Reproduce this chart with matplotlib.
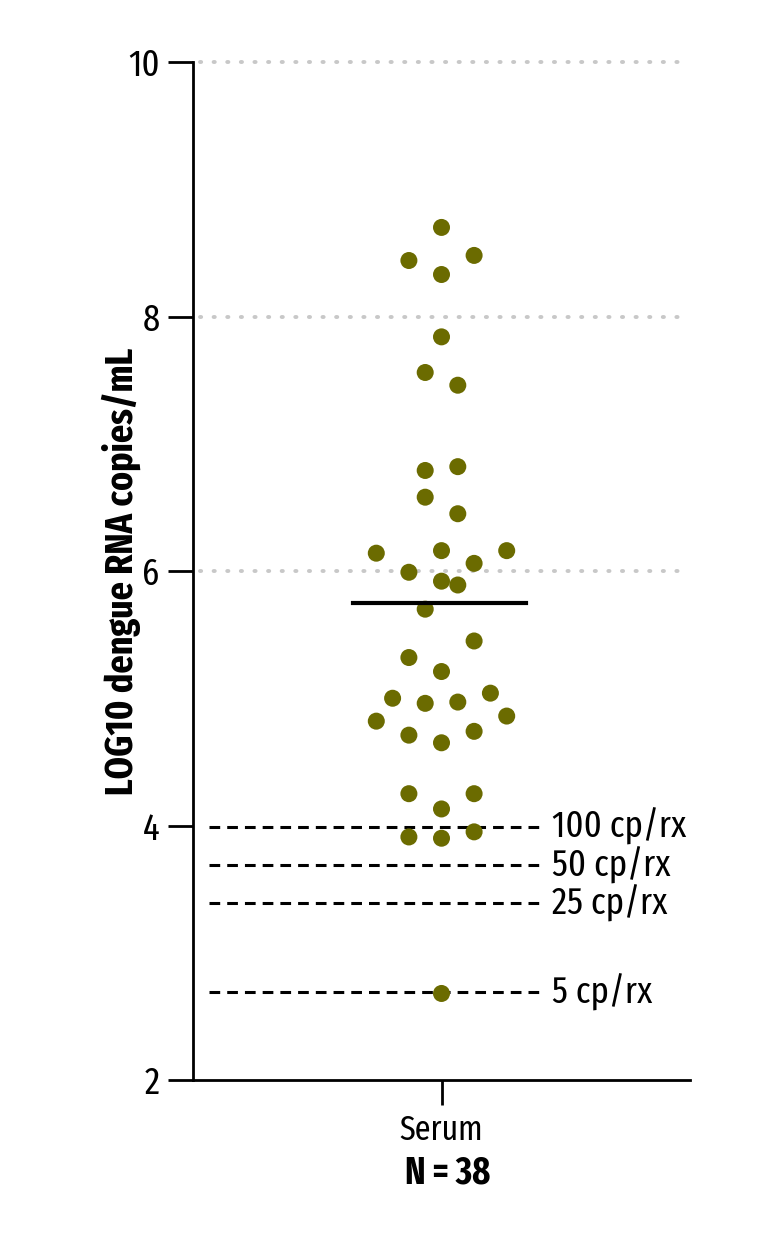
import matplotlib
matplotlib.use("Agg")
import matplotlib.pyplot as plt
import numpy as np

FONT = 'Fira Sans Extra Condensed'
plt.rcParams['font.family'] = [FONT, 'DejaVu Sans']
plt.rcParams['font.weight'] = 'normal'

# Data
category = ["Serum"]
n_label = "N = 38"
values = [8.70, 8.44, 8.48, 8.33, 7.84, 7.56, 7.46, 6.79, 6.82, 6.58, 6.45,
          6.14, 6.16, 6.16, 5.99, 6.06, 5.92, 5.89, 5.70, 5.45, 5.32, 5.21,
          5.00, 5.04, 4.96, 4.97, 4.82, 4.86, 4.71, 4.65, 4.74, 4.25, 4.25,
          4.13, 3.91, 3.95, 3.90, 2.68]
# beeswarm column (integer offsets from centre)
columns = [0, -2, 2, 0, 0, -1, 1, -1, 1, -1, 1,
           -4, 0, 4, -2, 2, 0, 1, -1, 2, -2, 0,
           -3, 3, -1, 1, -4, 4, -2, 0, 2, -2, 2,
           0, -2, 2, 0, 0]
mean_value = 5.75
lod_values = [3.99, 3.69, 3.39, 2.69]
lod_labels = ["100 cp/rx", "50 cp/rx", "25 cp/rx", "5 cp/rx"]
yticks = [2, 4, 6, 8, 10]
ylabel = "LOG10 dengue RNA copies/mL"

fig = plt.figure(figsize=(7.78, 12.37), dpi=100)
ax = fig.add_axes([193/778, 1 - 1080/1237, (690-193)/778, (1080-62)/1237])
ax.set_xlim(-1, 1)
ax.set_ylim(2, 10)

step = 0.0656
xs = np.array(columns) * step

for g in [6, 8, 10]:
    ax.plot([-0.97, 1], [g, g], color='#c8c8c8', lw=2.8, ls=(0, (0.3, 3.2)),
            dash_capstyle='round', zorder=1, clip_on=False)

for v, lab in zip(lod_values, lod_labels):
    ax.plot([-0.937, 0.416], [v, v], color='black', lw=2.2, ls=(0, (3.5, 2.3)), zorder=2)
    ax.text(0.445, v, lab, fontsize=27, va='center', ha='left')

ax.scatter(xs, values, s=150, color='#6b6b00', edgecolors='none', zorder=3)
ax.plot([-0.356, 0.34], [mean_value, mean_value], color='black', lw=3, zorder=4)

ax.set_yticks(yticks)
ax.set_yticklabels([str(t) for t in yticks], fontsize=27)
ax.set_xticks([0])
ax.set_xticklabels(category, fontsize=25)
ax.tick_params(axis='both', length=18, width=2, pad=6, direction='out')
for s in ['top', 'right']:
    ax.spines[s].set_visible(False)
for s in ['left', 'bottom']:
    ax.spines[s].set_linewidth(2)
ax.set_ylabel(ylabel, fontsize=28, fontweight='bold', labelpad=-9)
fig.text(448/778, 1 - 1173/1237, n_label, fontsize=27, fontweight='bold', ha='center', va='center')

fig.savefig("out.png", dpi=100)
